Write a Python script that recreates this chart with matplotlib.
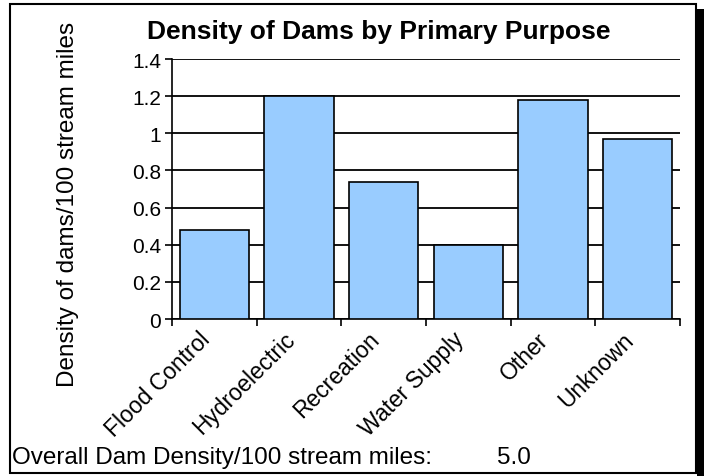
import matplotlib
matplotlib.use("Agg")
import matplotlib.pyplot as plt
import matplotlib.transforms as mtrans
from matplotlib.patches import Rectangle

plt.rcParams['font.family'] = ['Liberation Sans', 'DejaVu Sans']

# data
purposes = ["Flood Control", "Hydroelectric", "Recreation", "Water Supply", "Other", "Unknown"]
density = [0.48, 1.20, 0.74, 0.40, 1.18, 0.97]
y_ticks = [0, 0.2, 0.4, 0.6, 0.8, 1.0, 1.2, 1.4]
y_tick_labels = ["0", "0.2", "0.4", "0.6", "0.8", "1", "1.2", "1.4"]
overall_label = "Overall Dam Density/100 stream miles:"
overall_value = "5.0"

W, H = 704, 477
fig = plt.figure(figsize=(W / 100, H / 100), dpi=100)

# chart border + shadow
fig.patches.append(Rectangle((10 / W, 1 - 474 / H), 686 / W, 469 / H, transform=fig.transFigure,
                             fill=False, edgecolor="black", linewidth=1.5, zorder=0))
fig.patches.append(Rectangle((697 / W, 0), 7 / W, 1 - 10 / H, transform=fig.transFigure,
                             facecolor="black", edgecolor="none", zorder=0))

ax = fig.add_axes([172 / W, 1 - 320 / H, 508 / W, 260 / H])
x = range(len(purposes))
ax.bar(x, density, width=0.82, color="#99CCFF", edgecolor="black", linewidth=1.2, zorder=3)

ax.set_xlim(-0.5, len(purposes) - 0.5)
ax.set_ylim(0, 1.4)
ax.set_yticks(y_ticks)
ax.set_yticklabels(y_tick_labels, fontsize=15)
ax.yaxis.grid(True, color="black", linewidth=1.3, zorder=0)
ax.set_axisbelow(True)

ax.set_xticks(list(x))
ax.set_xticklabels(purposes, rotation=45, ha="right", va="top", rotation_mode="anchor", fontsize=16.5)
ax.tick_params(axis="x", length=0, pad=6)
# nudge the slanted labels left, like the original
shift = mtrans.ScaledTranslation(-0.16, 0, fig.dpi_scale_trans)
for lbl in ax.get_xticklabels():
    lbl.set_transform(lbl.get_transform() + shift)
ax.set_xticks([i - 0.5 for i in range(len(purposes) + 1)], minor=True)
ax.tick_params(axis="x", which="minor", length=5, width=1.2, direction="out")
ax.tick_params(axis="y", length=5, width=1.2, direction="out", pad=3)

for s in ["top", "right"]:
    ax.spines[s].set_visible(False)
ax.spines["left"].set_linewidth(1.2)
ax.spines["bottom"].set_linewidth(1.2)

fig.text(68 / W, 1 - 204 / H, "Density of dams/100 stream miles", fontsize=17.5, rotation=90,
         ha="center", va="center")
fig.text(379 / W, 1 - 32 / H, "Density of Dams by Primary Purpose", fontsize=19, fontweight="bold",
         ha="center", va="center")
fig.text(12 / W, 1 - 458 / H, overall_label, fontsize=17.5, ha="left", va="center")
fig.text(497 / W, 1 - 458 / H, overall_value, fontsize=17.5, ha="left", va="center")

fig.savefig("out.png", dpi=100)
